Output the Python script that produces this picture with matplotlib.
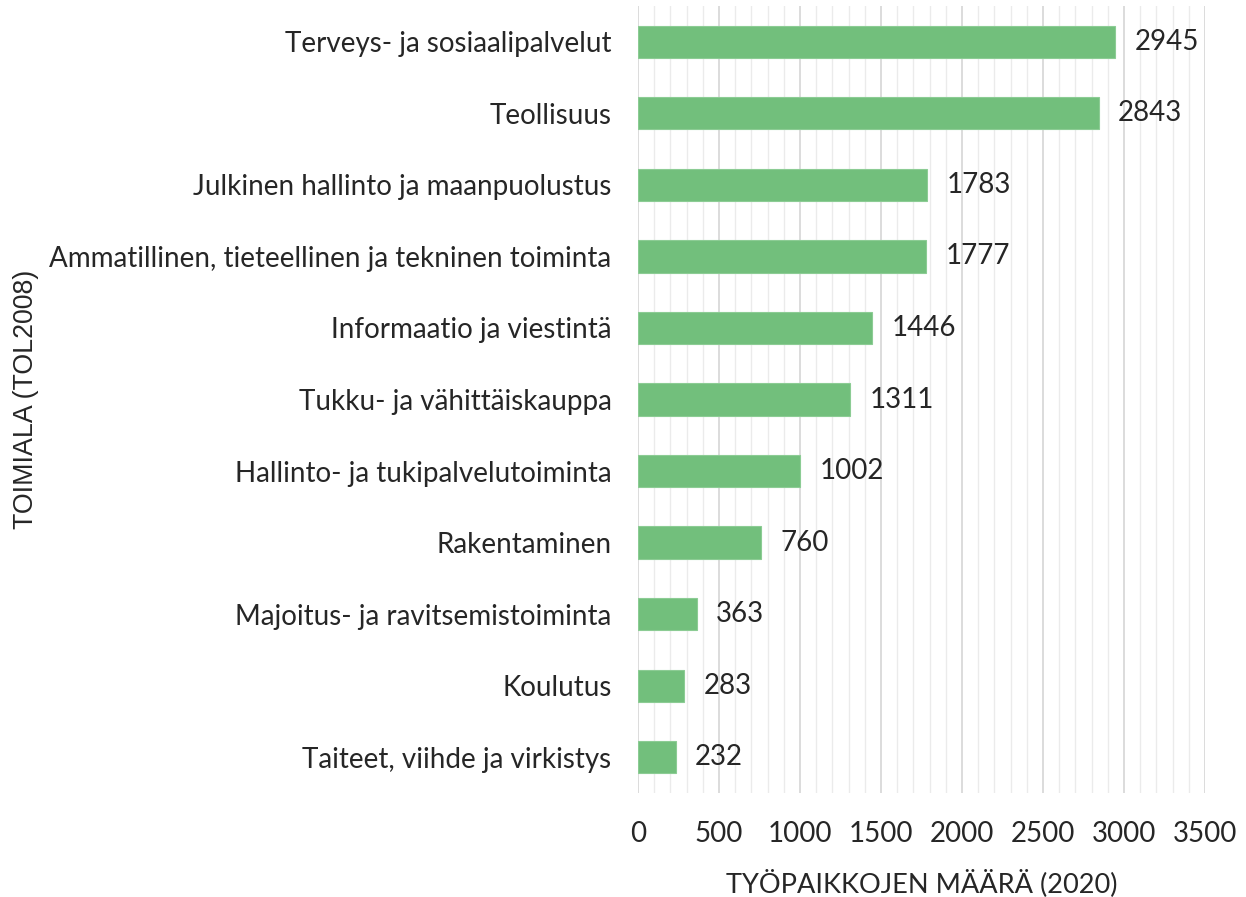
import matplotlib
matplotlib.use("Agg")
import matplotlib.pyplot as plt
from matplotlib.ticker import MultipleLocator

categories = [
    "Terveys- ja sosiaalipalvelut",
    "Teollisuus",
    "Julkinen hallinto ja maanpuolustus",
    "Ammatillinen, tieteellinen ja tekninen toiminta",
    "Informaatio ja viestintä",
    "Tukku- ja vähittäiskauppa",
    "Hallinto- ja tukipalvelutoiminta",
    "Rakentaminen",
    "Majoitus- ja ravitsemistoiminta",
    "Koulutus",
    "Taiteet, viihde ja virkistys",
]
values = [2945, 2843, 1783, 1777, 1446, 1311, 1002, 760, 363, 283, 232]
x_ticks = [0, 500, 1000, 1500, 2000, 2500, 3000, 3500]

plt.rcParams['font.family'] = ['Lato', 'DejaVu Sans']
text_color = '#262626'

fig = plt.figure(figsize=(12.46, 8.97), dpi=100)
ax = fig.add_axes([638/1246, 1-793/897, 567/1246, 787/897])

ypos = list(range(len(categories)))
ax.barh(ypos, values, height=0.45, color='#72BF7C', edgecolor='#8ccc94', linewidth=0.8, zorder=3)
ax.set_ylim(len(categories)-0.5, -0.5)
ax.set_yticks(ypos)
ax.set_yticklabels(categories, fontsize=20, color=text_color)
ax.set_xlim(0, 3500)
ax.set_xticks(x_ticks)
ax.set_xticklabels([str(t) for t in x_ticks], fontsize=20, color=text_color)
ax.xaxis.set_minor_locator(MultipleLocator(100))
ax.grid(axis='x', which='minor', color='#ebebeb', linewidth=1.0, zorder=0)
ax.grid(axis='x', which='major', color='#d6d6d6', linewidth=1.2, zorder=0)
ax.tick_params(axis='y', length=0, pad=19)
ax.tick_params(axis='x', which='both', length=0, pad=20)
for s in ax.spines.values():
    s.set_visible(False)

for y, v in zip(ypos, values):
    ax.annotate(str(v), xy=(v, y), xytext=(14, 0), textcoords='offset points',
                va='center', ha='left', fontsize=20, color=text_color)

ax.set_xlabel("TYÖPAIKKOJEN MÄÄRÄ (2020)", fontsize=19.5, color=text_color, labelpad=16)
fig.text(26/1246, 1-399/897, "TOIMIALA (TOL2008)", rotation=90, va='center', ha='center',
         fontsize=19.3, color=text_color, family=['Liberation Sans', 'DejaVu Sans'])

fig.savefig("out.png", dpi=100)
